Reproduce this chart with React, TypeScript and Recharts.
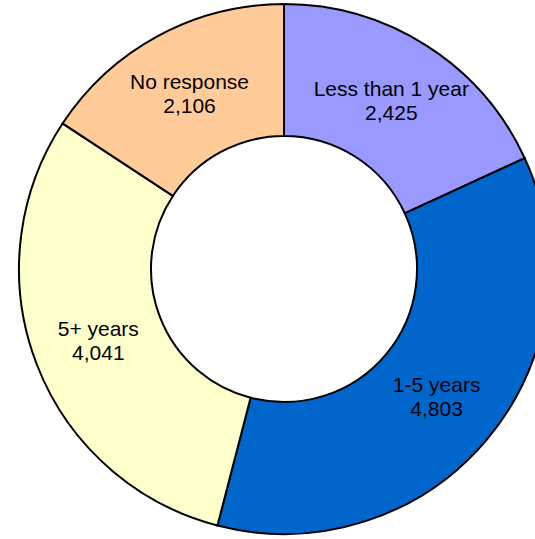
import React from "react";
import { PieChart, Pie, Cell } from "recharts";

const categories = ["Less than 1 year", "1-5 years", "5+ years", "No response"];
const values = [2425, 4803, 4041, 2106];
const colors = ["#9999FF", "#0066CC", "#FFFFCC", "#FFCC99"];

const data = categories.map((name, i) => ({ name, value: values[i] }));

const RAD = Math.PI / 180;

const renderLabel = (props: any) => {
  const { cx, cy, midAngle, innerRadius, outerRadius, index } = props;
  const r = (innerRadius + outerRadius) / 2;
  const x = cx + r * Math.cos(-midAngle * RAD);
  const y = cy + r * Math.sin(-midAngle * RAD);
  return (
    <text
      x={x}
      y={y}
      textAnchor="middle"
      fill="#000"
      fontFamily="'Liberation Sans', Arial, sans-serif"
      fontSize={21}
    >
      <tspan x={x} y={y - 5}>{categories[index]}</tspan>
      <tspan x={x} y={y + 19}>{values[index].toLocaleString("en-US")}</tspan>
    </text>
  );
};

export default function App() {
  return (
    <div style={{ position: "absolute", left: 0, top: 0, width: 535, height: 539, background: "#fff" }}>
      <PieChart width={535} height={539} margin={{ top: 0, right: 0, bottom: 0, left: 0 }}>
        <Pie
          data={data}
          dataKey="value"
          nameKey="name"
          cx={284}
          cy={269}
          innerRadius={133}
          outerRadius={265}
          startAngle={90}
          endAngle={-270}
          stroke="#000"
          strokeWidth={2}
          label={renderLabel}
          labelLine={false}
          isAnimationActive={false}
        >
          {data.map((d, i) => (
            <Cell key={d.name} fill={colors[i]} />
          ))}
        </Pie>
      </PieChart>
    </div>
  );
}
